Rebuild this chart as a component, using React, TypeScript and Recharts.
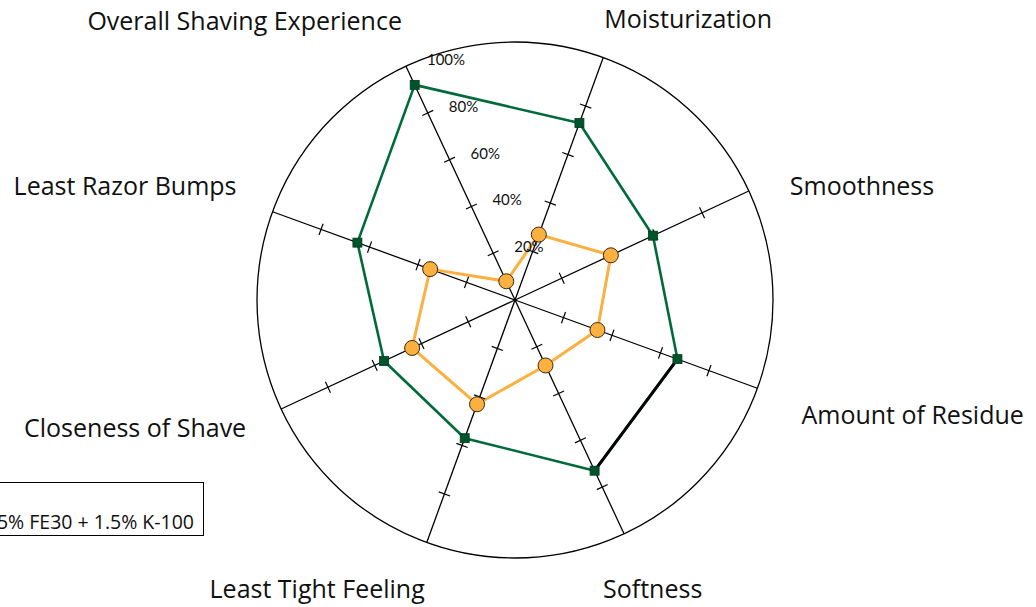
import React from 'react';
import { RadarChart, Radar, PolarGrid, PolarAngleAxis, PolarRadiusAxis, Legend } from 'recharts';

const categories = [
  'Overall Shaving Experience',
  'Moisturization',
  'Smoothness',
  'Amount of Residue',
  'Softness',
  'Least Tight Feeling',
  'Closeness of Shave',
  'Least Razor Bumps',
];
const blendValues = [92, 73, 59, 67, 73, 57, 56, 65];
const controlValues = [8, 27, 41, 34, 28, 43, 44, 35];
const axisTickMarks = [20, 40, 60, 80];
const blendName = '1.5% FE30 + 1.5% K-100';
const controlName = 'Control';

const data = categories.map((c, i) => ({ category: c, blend: blendValues[i], control: controlValues[i] }));

const FONT = '"Open Sans", "Noto Sans", sans-serif';
const SMALL_FONT = 'Lato, "Noto Sans", sans-serif';
const GREEN = '#006b3a';
const GREEN_DARK = '#00542c';
const ORANGE = '#fbb040';

const labelLayout: { anchor: 'start' | 'end'; dx: number; dy: number }[] = [
  { anchor: 'end', dx: -4, dy: -46 },
  { anchor: 'start', dx: 1, dy: -40 },
  { anchor: 'start', dx: 41, dy: -6 },
  { anchor: 'start', dx: 44, dy: 26 },
  { anchor: 'start', dx: -21, dy: 54 },
  { anchor: 'end', dx: -2, dy: 46 },
  { anchor: 'end', dx: -35, dy: 18 },
  { anchor: 'end', dx: -36, dy: -27 },
];

const AngleTick = (props: any) => {
  const { cx, cy, radius, payload, index } = props;
  const a = (payload.coordinate * Math.PI) / 180;
  const ux = Math.cos(a);
  const uy = -Math.sin(a);
  const px = -uy;
  const py = ux;
  const ex = cx + radius * ux;
  const ey = cy + radius * uy;
  const lay = labelLayout[index] || { anchor: 'middle', dx: 0, dy: 0 };
  return (
    <g>
      {axisTickMarks.map((t) => {
        const r = (radius * t) / 100;
        const x = cx + r * ux;
        const y = cy + r * uy;
        return (
          <line key={t} x1={x - 6 * px} y1={y - 6 * py} x2={x + 6 * px} y2={y + 6 * py} stroke="#000" strokeWidth={1.2} />
        );
      })}
      <text
        x={ex + lay.dx}
        y={ey + lay.dy}
        textAnchor={lay.anchor}
        dominantBaseline="central"
        fontFamily={FONT}
        fontSize={25}
        fill="#111"
      >
        {payload.value}
      </text>
    </g>
  );
};

const RadiusTick = (props: any) => {
  const { x, y, payload } = props;
  if (payload.value === 0) return <g />;
  return (
    <text x={x + 21} y={y - 7} textAnchor="start" dominantBaseline="central" fontFamily={SMALL_FONT} fontSize={15} fill="#111">
      {`${payload.value}%`}
    </text>
  );
};

const BlendShape = (props: any) => {
  const pts: any[] = props.points || [];
  if (!pts.length) return <g />;
  const d = pts.map((p, i) => `${i === 0 ? 'M' : 'L'}${p.x},${p.y}`).join(' ') + ' Z';
  const a = pts[3];
  const b = pts[4];
  return (
    <g>
      <path d={d} fill="none" stroke={GREEN} strokeWidth={2.6} strokeLinejoin="round" />
      {a && b && <line x1={a.x} y1={a.y} x2={b.x} y2={b.y} stroke="#000" strokeWidth={3} />}
    </g>
  );
};

const SquareDot = (props: any) => {
  const { cx, cy, index } = props;
  const ang = props.payload && typeof props.payload.angle === 'number' ? props.payload.angle : 0;
  const s = 9;
  return (
    <rect
      key={`sq-${index}`}
      x={cx - s / 2}
      y={cy - s / 2}
      width={s}
      height={s}
      fill={GREEN_DARK}
      stroke="#003a1e"
      strokeWidth={0.8}
      transform={`rotate(${-ang}, ${cx}, ${cy})`}
    />
  );
};

const CircleDot = (props: any) => {
  const { cx, cy, index } = props;
  return <circle key={`c-${index}`} cx={cx} cy={cy} r={7.5} fill={ORANGE} stroke="#3a2a10" strokeWidth={1} />;
};

const LegendBox = () => (
  <div
    style={{
      boxSizing: 'border-box',
      width: 320,
      height: 54,
      border: '1.5px solid #000',
      background: '#fff',
      fontFamily: FONT,
      fontSize: 19.5,
      color: '#111',
      textAlign: 'right',
      paddingRight: 9,
      paddingTop: 29,
      lineHeight: '20px',
      whiteSpace: 'nowrap',
    }}
  >
    {blendName}
  </div>
);

export default function App() {
  return (
    <div style={{ position: 'absolute', left: 0, top: 0, width: 1036, height: 607, background: '#fff', overflow: 'hidden' }}>
      <RadarChart
        width={1036}
        height={607}
        data={data}
        cx={515}
        cy={300}
        outerRadius={258}
        startAngle={115}
        endAngle={-245}
        margin={{ top: 0, right: 0, bottom: 0, left: 0 }}
      >
        <PolarGrid gridType="circle" polarRadius={[258]} stroke="#000" strokeWidth={1.3} strokeOpacity={1} />
        <PolarAngleAxis dataKey="category" tick={(p: any) => <AngleTick {...p} />} axisLine={false} tickLine={false} />
        <PolarRadiusAxis
          angle={115}
          domain={[0, 100]}
          tickCount={6}
          axisLine={false}
          tick={(p: any) => <RadiusTick {...p} />}
        />
        <Radar
          name={controlName}
          dataKey="control"
          stroke={ORANGE}
          strokeWidth={3}
          fill="none"
          fillOpacity={0}
          dot={(p: any) => <CircleDot {...p} />}
          isAnimationActive={false}
          legendType="none"
        />
        <Radar
          name={blendName}
          dataKey="blend"
          stroke={GREEN}
          fill="none"
          shape={(p: any) => <BlendShape {...p} />}
          dot={(p: any) => <SquareDot {...p} />}
          isAnimationActive={false}
        />
        <Legend content={() => <LegendBox />} wrapperStyle={{ position: 'absolute', left: -116, top: 482, width: 320, height: 54 }} />
      </RadarChart>
    </div>
  );
}
